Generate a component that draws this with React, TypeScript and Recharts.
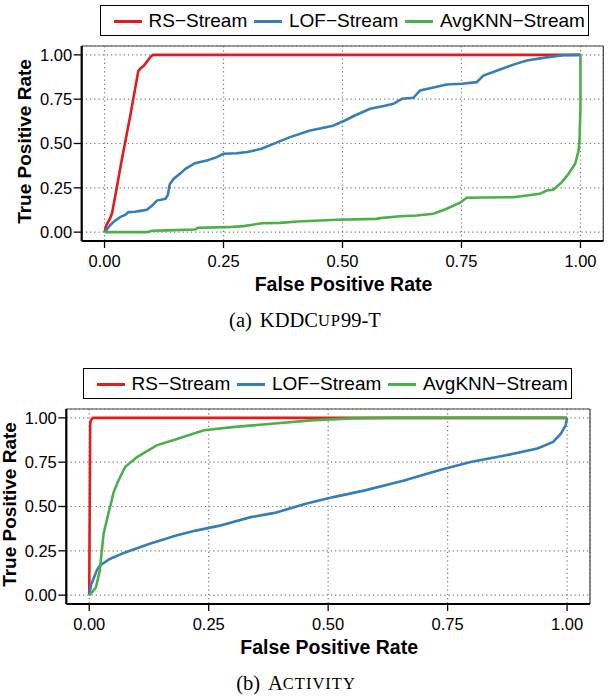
import { LineChart, Line, XAxis, YAxis, CartesianGrid, ReferenceLine } from "recharts";

const fprTicks = [0, 0.25, 0.5, 0.75, 1];
const tprTicks = [0, 0.25, 0.5, 0.75, 1];
const methods = ["RS\u2212Stream", "LOF\u2212Stream", "AvgKNN\u2212Stream"];
const colors = ["#E41A1C", "#377EB8", "#4DAF4A"];

// (a) KDDCup99-T
const kddRsFpr = [0, 0.004, 0.012, 0.016, 0.025, 0.035, 0.045, 0.055, 0.065, 0.071, 0.076, 0.083, 0.09, 0.097, 0.102, 1];
const kddRsTpr = [0, 0.04, 0.08, 0.11, 0.24, 0.39, 0.53, 0.67, 0.82, 0.91, 0.925, 0.94, 0.965, 0.99, 1, 1];

const kddLofFpr = [0, 0.005, 0.012, 0.02, 0.033, 0.045, 0.05, 0.064, 0.075, 0.089, 0.1, 0.11, 0.128, 0.133, 0.137, 0.145, 0.159, 0.17, 0.19, 0.215, 0.236, 0.25, 0.278, 0.3, 0.33, 0.355, 0.37, 0.39, 0.43, 0.48, 0.505, 0.526, 0.558, 0.587, 0.607, 0.625, 0.649, 0.663, 0.684, 0.719, 0.751, 0.782, 0.796, 0.828, 0.859, 0.887, 0.929, 0.964, 1];
const kddLofTpr = [0, 0.015, 0.04, 0.06, 0.085, 0.1, 0.113, 0.115, 0.12, 0.126, 0.15, 0.178, 0.188, 0.21, 0.27, 0.3, 0.33, 0.357, 0.389, 0.404, 0.423, 0.442, 0.445, 0.452, 0.47, 0.498, 0.515, 0.536, 0.572, 0.6, 0.63, 0.658, 0.696, 0.712, 0.724, 0.752, 0.758, 0.799, 0.812, 0.833, 0.837, 0.846, 0.883, 0.915, 0.945, 0.968, 0.986, 0.998, 1];

const kddKnnFpr = [0, 0.09, 0.1, 0.131, 0.19, 0.197, 0.257, 0.292, 0.331, 0.369, 0.406, 0.489, 0.571, 0.579, 0.621, 0.656, 0.691, 0.719, 0.747, 0.761, 0.8, 0.859, 0.915, 0.929, 0.943, 0.961, 0.975, 0.989, 0.996, 0.998, 1, 1];
const kddKnnTpr = [0, 0, 0.008, 0.01, 0.015, 0.025, 0.028, 0.034, 0.05, 0.052, 0.06, 0.07, 0.075, 0.079, 0.09, 0.094, 0.104, 0.132, 0.166, 0.194, 0.195, 0.197, 0.216, 0.235, 0.239, 0.282, 0.329, 0.386, 0.46, 0.517, 0.705, 1];

// (b) Activity
const actRsFpr = [0, 0.002, 0.004, 0.008, 1];
const actRsTpr = [0, 0.97, 0.99, 1, 1];

const actLofFpr = [0, 0.004, 0.01, 0.016, 0.022, 0.043, 0.075, 0.125, 0.182, 0.223, 0.273, 0.338, 0.388, 0.453, 0.511, 0.577, 0.659, 0.732, 0.798, 0.872, 0.938, 0.971, 0.987, 0.997, 1];
const actLofTpr = [0, 0.06, 0.1, 0.14, 0.166, 0.204, 0.241, 0.289, 0.336, 0.364, 0.392, 0.44, 0.464, 0.515, 0.553, 0.591, 0.647, 0.704, 0.751, 0.789, 0.827, 0.864, 0.911, 0.958, 1];

const actKnnFpr = [0, 0.007, 0.014, 0.022, 0.03, 0.04, 0.047, 0.051, 0.06, 0.075, 0.1, 0.141, 0.182, 0.24, 0.305, 0.388, 0.47, 0.552, 0.63, 1];
const actKnnTpr = [0, 0.02, 0.043, 0.138, 0.345, 0.46, 0.534, 0.58, 0.64, 0.723, 0.779, 0.845, 0.879, 0.93, 0.949, 0.968, 0.987, 0.997, 1, 1];

const toPoints = (fpr: number[], tpr: number[]) => fpr.map((f, i) => ({ fpr: f, tpr: tpr[i] }));

const SANS = "'Liberation Sans', Arial, Helvetica, sans-serif";
const SERIF = "'Liberation Serif', 'Times New Roman', serif";

const W = 611;
const H = 333;
const PLOT_TOP = 46;
const PLOT_BOTTOM = 241;

function Legend2({ left }: { left: number }) {
  const lineX = [14, 154, 304.5];
  const textX = [48.5, 189, 340];
  return (
    <div
      style={{
        position: "absolute",
        left,
        top: 5,
        width: 489,
        height: 31,
        boxSizing: "border-box",
        border: "1.3px solid #000",
        fontFamily: SANS,
        fontSize: 19,
        color: "#000",
      }}
    >
      {methods.map((m, i) => (
        <div key={m}>
          <div
            style={{
              position: "absolute",
              left: lineX[i] - 1,
              top: 13.5,
              width: 28,
              height: 3,
              background: colors[i],
            }}
          />
          <span
            style={{
              position: "absolute",
              left: textX[i] - 1,
              top: 0,
              lineHeight: "29px",
              whiteSpace: "nowrap",
            }}
          >
            {m}
          </span>
        </div>
      ))}
    </div>
  );
}

interface PanelProps {
  top: number;
  plotLeft: number;
  plotRight: number;
  legendLeft: number;
  captionX: number;
  caption: React.ReactNode;
  series: { fpr: number; tpr: number }[][];
}

function Panel({ top, plotLeft, plotRight, legendLeft, captionX, caption, series }: PanelProps) {
  const midX = (plotLeft + plotRight) / 2 + 1;
  const midY = (PLOT_TOP + PLOT_BOTTOM) / 2 - 2;

  const xTitle = () => (
    <g>
      <text x={midX} y={284} textAnchor="middle" dominantBaseline="central"
        fontFamily={SANS} fontWeight="bold" fontSize={19.5} fill="#000">
        False Positive Rate
      </text>
      <text x={captionX} y={320} textAnchor="middle" dominantBaseline="central"
        fontFamily={SERIF} fontSize={20.5} fill="#000">
        {caption}
      </text>
    </g>
  );

  const yTitle = () => (
    <text x={plotLeft - 57} y={midY} textAnchor="middle" dominantBaseline="central"
      transform={`rotate(-90 ${plotLeft - 57} ${midY})`}
      fontFamily={SANS} fontWeight="bold" fontSize={19} fill="#000">
      True Positive Rate
    </text>
  );

  return (
    <div style={{ position: "absolute", left: 0, top, width: W, height: H }}>
      <LineChart
        width={W}
        height={H}
        margin={{ top: PLOT_TOP, right: W - plotRight, bottom: 0, left: 0 }}
      >
        <CartesianGrid stroke="#777" strokeDasharray="1.2 3" strokeWidth={1.2} />
        <XAxis
          dataKey="fpr"
          type="number"
          domain={[-0.048, 1.048]}
          ticks={fprTicks}
          allowDataOverflow
          height={H - PLOT_BOTTOM}
          tickFormatter={(v: number) => v.toFixed(2)}
          tick={{ fill: "#000", fontSize: 16.5, fontFamily: SANS }}
          tickSize={7}
          tickMargin={7}
          axisLine={{ stroke: "#000", strokeWidth: 2.2 }}
          tickLine={{ stroke: "#000", strokeWidth: 1.3 }}
          label={xTitle}
        />
        <YAxis
          dataKey="tpr"
          type="number"
          domain={[-0.05, 1.05]}
          ticks={tprTicks}
          allowDataOverflow
          width={plotLeft}
          tickFormatter={(v: number) => v.toFixed(2)}
          tick={{ fill: "#000", fontSize: 16.5, fontFamily: SANS }}
          tickSize={8}
          tickMargin={1.5}
          axisLine={{ stroke: "#000", strokeWidth: 2.2 }}
          tickLine={{ stroke: "#000", strokeWidth: 1.3 }}
          label={yTitle}
        />
        <ReferenceLine x={1.048} stroke="#444" strokeWidth={1.2} />
        <ReferenceLine y={1.05} stroke="#444" strokeWidth={1.2} />
        {series.map((pts, i) => (
          <Line
            key={methods[i]}
            data={pts}
            dataKey="tpr"
            type="linear"
            stroke={colors[i]}
            strokeWidth={2.6}
            dot={false}
            activeDot={false}
            isAnimationActive={false}
          />
        ))}
      </LineChart>
      <Legend2 left={legendLeft} />
    </div>
  );
}

export default function App() {
  const kddSeries = [
    toPoints(kddRsFpr, kddRsTpr),
    toPoints(kddLofFpr, kddLofTpr),
    toPoints(kddKnnFpr, kddKnnTpr),
  ];
  const actSeries = [
    toPoints(actRsFpr, actRsTpr),
    toPoints(actLofFpr, actLofTpr),
    toPoints(actKnnFpr, actKnnTpr),
  ];

  return (
    <div style={{ position: "absolute", left: 0, top: 0, width: W, height: 696, background: "#fff" }}>
      <Panel
        top={0}
        plotLeft={81.7}
        plotRight={603.3}
        legendLeft={100}
        captionX={305}
        series={kddSeries}
        caption={
          <>
            <tspan>(a)</tspan>
            <tspan dx={8}>KDDC</tspan>
            <tspan fontSize={16.5} letterSpacing={1}>UP</tspan>
            <tspan>99-T</tspan>
          </>
        }
      />
      <Panel
        top={363}
        plotLeft={66.3}
        plotRight={590}
        legendLeft={83}
        captionX={296}
        series={actSeries}
        caption={
          <>
            <tspan>(b)</tspan>
            <tspan dx={8}>A</tspan>
            <tspan fontSize={16.5} letterSpacing={1}>CTIVITY</tspan>
          </>
        }
      />
    </div>
  );
}
